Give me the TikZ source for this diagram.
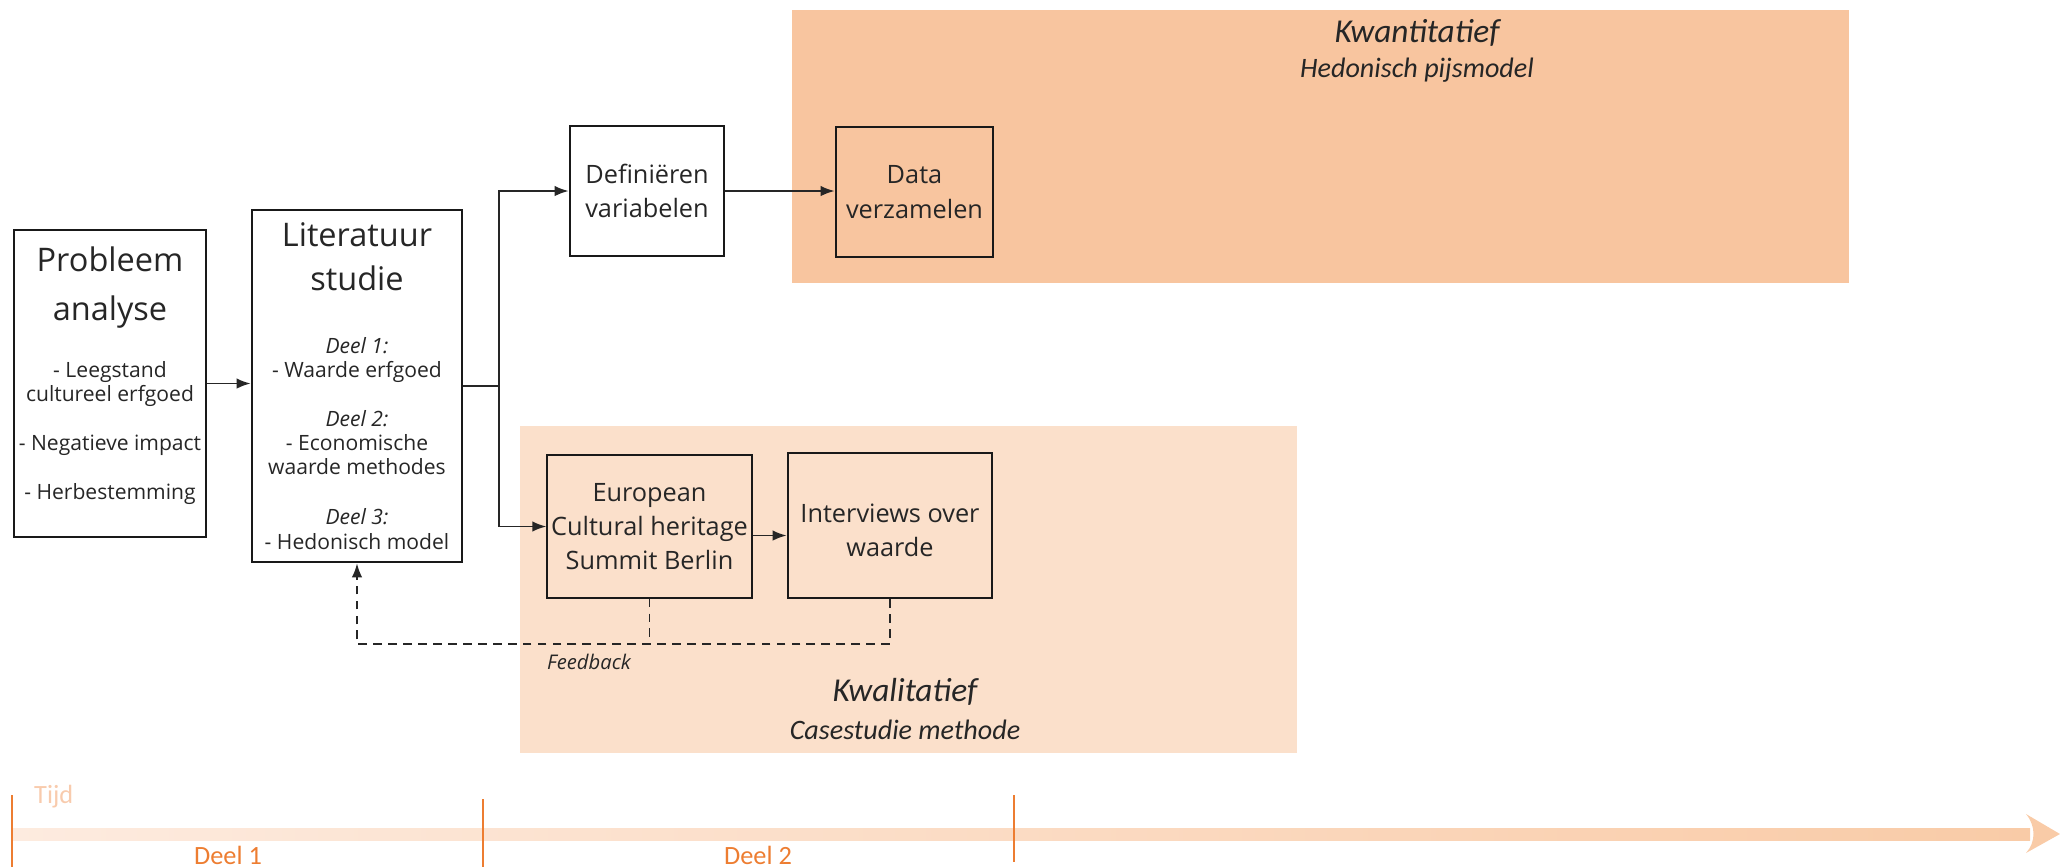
\documentclass[tikz,border=0pt]{standalone}
\usepackage{fontspec}
\setmainfont{Open Sans}
\newfontfamily\calfont{Carlito}
\usepackage{xcolor}
\usetikzlibrary{arrows.meta}
\definecolor{kwantkleur}{HTML}{F8C59F}
\definecolor{kwalkleur}{HTML}{FBE0CB}
\definecolor{tijdlicht}{HTML}{FDEBDF}
\definecolor{tijddonker}{HTML}{F9CBA7}
\definecolor{oranje}{HTML}{ED7D31}
\definecolor{tijdtekst}{HTML}{F8CBAD}
\definecolor{inkt}{HTML}{262626}
\newcommand{\titelfont}{\fontsize{18.5}{26.5}\selectfont}
\newcommand{\lijstfont}{\fontsize{12}{13.8}\selectfont}
\newcommand{\stapfont}{\fontsize{14.4}{19.5}\selectfont}

\tikzset{
    stapbox/.style={draw=black!90,line width=1.5pt,rectangle,align=center,text=inkt,inner sep=0pt},
    pijl/.style={-{Latex[length=8pt,width=6pt]},line width=1.1pt,draw=inkt},
    terug/.style={dash pattern=on 5pt off 3.5pt,line width=1.1pt,draw=inkt},
    tijdstreep/.style={draw=oranje,line width=1.3pt},
    regiotitel/.style={text=inkt,font=\calfont\itshape\fontsize{19}{23}\selectfont},
    regiosub/.style={text=inkt,font=\calfont\itshape\fontsize{16}{19}\selectfont},
}

\begin{document}
\begin{tikzpicture}[x=0.02cm,y=-0.02cm]
    \useasboundingbox (0,0) rectangle (2060,867);

    \fill[kwantkleur] (792,10) rectangle (1849,283);
    \fill[kwalkleur] (520,426) rectangle (1297,753);
    \node[regiotitel] (kwanttitel) at (1417,33) {Kwantitatief};
    \node[regiosub] (kwantsub) at (1417,70) {Hedonisch pijsmodel};
    \node[regiotitel] (kwaltitel) at (905,692) {Kwalitatief};
    \node[regiosub] (kwalsub) at (905,730) {Casestudie methode};

    \node[stapbox,font=\lijstfont,minimum width=3.84cm,minimum height=6.14cm] (probleem) at (110,383.5) {{\titelfont Probleem}\\[12.7pt]{\titelfont analyse}\\[18.6pt]- Leegstand\\cultureel erfgoed\\[14.1pt]- Negatieve impact\\[14.1pt]- Herbestemming\rule[-12pt]{0pt}{12pt}};
    \node[stapbox,font=\lijstfont,minimum width=4.2cm,minimum height=7.04cm] (lit) at (357,386) {{\titelfont Literatuur}\\[9.6pt]{\titelfont studie}\\[22pt]\textit{Deel 1:}\\- Waarde erfgoed\\[14.1pt]\textit{Deel 2:}\\- Economische\\waarde methodes\\[14.6pt]\textit{Deel 3:}\\- Hedonisch model};
    \node[stapbox,minimum width=3.08cm,minimum height=2.6cm,font=\stapfont] (def) at (647,191) {Definiëren\\variabelen};
    \node[stapbox,minimum width=3.14cm,minimum height=2.6cm,font=\stapfont] (data) at (914.5,192) {Data\\verzamelen};
    \node[stapbox,line width=0.7pt,minimum width=4.1cm,minimum height=2.86cm,font=\stapfont] (eur) at (649.5,526.5) {European\\Cultural heritage\\Summit Berlin};
    \node[stapbox,minimum width=4.08cm,minimum height=2.9cm,font=\stapfont] (int) at (890,525.5) {\rule{0pt}{16.3pt}Interviews over\\waarde};

    \coordinate (splitsing) at (499,386);
    \coordinate (fbniveau) at (0,644);
    \draw[pijl] (probleem.east) -- (probleem.east -| lit.west);
    \draw[pijl] (lit.east) -- (splitsing) |- (def.west);
    \draw[pijl] (splitsing) |- (eur.west);
    \draw[pijl] (def.east) -- (def.east -| data.west);
    \draw[pijl] ([yshift=-0.18cm]eur.east) -- ([yshift=-0.18cm]eur.east -| int.west);
    \draw[terug] (eur.south) -- (eur.south |- fbniveau);
    \draw[terug,-{Latex[length=8pt,width=6pt]}] (int.south) |- (lit.south |- fbniveau) -- (lit.south);
    \node[anchor=west,text=inkt,font=\itshape\fontsize{11.5}{13}\selectfont] (feedback) at (541,662) {Feedback};

    \shade[left color=tijdlicht,right color=tijddonker] (11,828) rectangle (2030,840);
    \fill[tijddonker] (2026,814) -- (2060,834) -- (2026,853) .. controls (2036,842) and (2036,826) .. (2026,814) -- cycle;
    \draw[tijdstreep] (12,795) -- (12,867);
    \draw[tijdstreep] (483,799) -- (483,867);
    \draw[tijdstreep] (1014,795) -- (1014,862);
    \node[anchor=west,text=tijdtekst,font=\calfont\fontsize{15}{18}\selectfont] (tijd) at (28,797) {Tijd};
    \node[anchor=base,text=oranje,font=\calfont\fontsize{15}{18}\selectfont] (deel1) at (228,864) {Deel 1};
    \node[anchor=base,text=oranje,font=\calfont\fontsize{15}{18}\selectfont] (deel2) at (758,864) {Deel 2};
\end{tikzpicture}
\end{document}
